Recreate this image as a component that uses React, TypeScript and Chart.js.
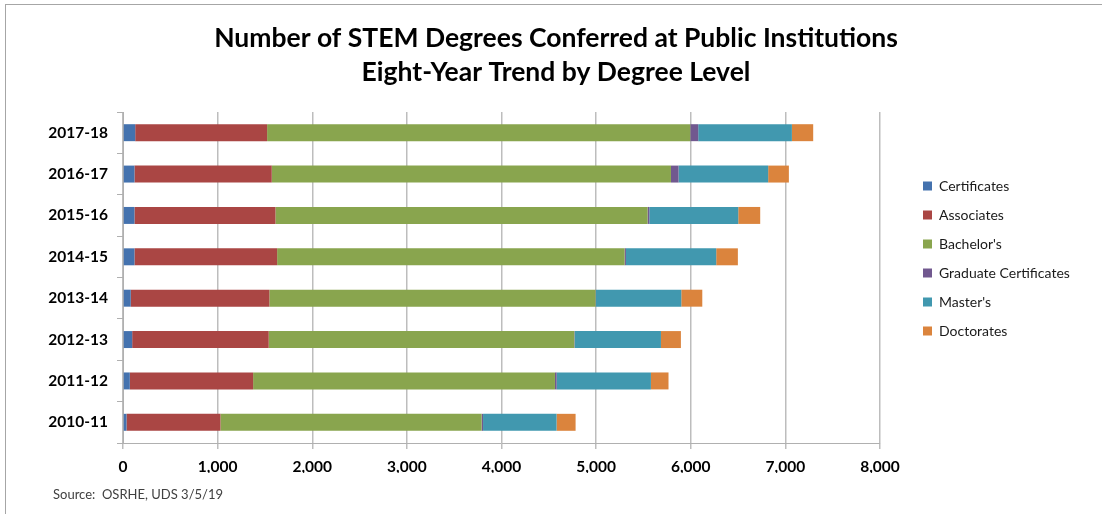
import React, { useEffect, useRef } from "react";
import { Chart, registerables } from "chart.js";

Chart.register(...registerables);

const categories = ["2017-18", "2016-17", "2015-16", "2014-15", "2013-14", "2012-13", "2011-12", "2010-11"];
const certificates = [129, 121, 121, 121, 82, 97, 72, 37];
const associates = [1394, 1451, 1490, 1508, 1465, 1443, 1303, 993];
const bachelors = [4472, 4219, 3933, 3672, 3447, 3229, 3190, 2760];
const gradCertificates = [84, 80, 18, 14, 4, 4, 18, 15];
const masters = [990, 947, 940, 954, 902, 912, 996, 777];
const doctorates = [225, 219, 232, 229, 222, 211, 186, 201];
const xTicks = [0, 1000, 2000, 3000, 4000, 5000, 6000, 7000, 8000];

const titleLines = ["Number of STEM Degrees Conferred at Public Institutions", "Eight-Year Trend by Degree Level"];
const sourceText = "Source:  OSRHE, UDS 3/5/19";

const FONT = "Lato, 'Open Sans', sans-serif";
const LEGEND_FONT_SIZE = 14;
const LEGEND_PAD = 15;
const LEGEND_BOX = 9;

export default function App() {
  const ref = useRef<HTMLCanvasElement | null>(null);

  useEffect(() => {
    if (!ref.current) return;
    const series = [
      { label: "Certificates", data: certificates, backgroundColor: "#4472AE" },
      { label: "Associates", data: associates, backgroundColor: "#AA4644" },
      { label: "Bachelor's", data: bachelors, backgroundColor: "#89A54E" },
      { label: "Graduate Certificates", data: gradCertificates, backgroundColor: "#71588F" },
      { label: "Master's", data: masters, backgroundColor: "#4198AF" },
      { label: "Doctorates", data: doctorates, backgroundColor: "#DB843D" },
    ];

    // measure the legend so the layout can be fixed
    const mctx = document.createElement("canvas").getContext("2d")!;
    mctx.font = `normal ${LEGEND_FONT_SIZE}px ${FONT}`;
    const textW = Math.max(...series.map((s) => mctx.measureText(s.label).width));
    const legendLeft = 908;
    const legendWidth = Math.ceil(LEGEND_PAD + LEGEND_BOX + LEGEND_FONT_SIZE / 2 + textW + 3);
    const padRight = Math.max(0, 1102 - legendLeft - legendWidth);
    const padLeft = padRight + 10;
    const yAxisWidth = 123 - padLeft;

    const chart = new Chart(ref.current, {
      type: "bar",
      data: {
        labels: categories,
        datasets: series.map((s) => ({
          ...s,
          borderWidth: 0,
          barPercentage: 0.41,
          categoryPercentage: 1,
        })),
      },
      options: {
        indexAxis: "y",
        responsive: false,
        animation: false,
        devicePixelRatio: 1,
        layout: { padding: { left: padLeft, right: padRight, top: 0, bottom: 41 } },
        scales: {
          x: {
            stacked: true,
            min: 0,
            max: 8000,
            afterBuildTicks: (scale: any) => {
              scale.ticks = xTicks.map((v) => ({ value: v }));
            },
            afterFit: (scale: any) => {
              scale.height = 30;
            },
            grid: { color: "#bdbdbd", lineWidth: 1.5, tickLength: 6, drawTicks: true },
            border: { display: true, color: "#b0b0b0", width: 1 },
            ticks: {
              padding: 9,
              color: "#000",
              font: { family: FONT, size: 15.5, weight: "bold" },
              callback: (v: any) => Number(v).toLocaleString("en-US"),
            },
          },
          y: {
            stacked: true,
            afterFit: (scale: any) => {
              scale.width = yAxisWidth;
            },
            grid: { drawOnChartArea: false, drawTicks: true, tickLength: 6, offset: true, color: "#b0b0b0" },
            border: { display: true, color: "#b0b0b0", width: 1 },
            ticks: {
              padding: 9,
              color: "#000",
              font: { family: FONT, size: 15.5, weight: "bold" },
            },
          },
          y2: {
            type: "category",
            position: "right",
            display: true,
            grid: { display: false, drawTicks: false },
            border: { display: false },
            ticks: { display: false },
            afterFit: (scale: any) => {
              scale.width = 28;
            },
          },
        },
        plugins: {
          title: {
            display: true,
            text: titleLines,
            color: "#000",
            font: { family: FONT, size: 26.5, weight: "bold", lineHeight: 34 / 26.5 },
            padding: { top: 21, bottom: 23 },
          },
          legend: {
            display: true,
            position: "right",
            align: "start",
            fullSize: false,
            maxWidth: legendWidth,
            title: { display: true, text: "", padding: { top: 0, bottom: 40 }, font: { size: 10 } },
            labels: {
              boxWidth: LEGEND_BOX,
              boxHeight: LEGEND_BOX,
              padding: LEGEND_PAD,
              color: "#1a1a1a",
              font: { family: FONT, size: LEGEND_FONT_SIZE },
            },
          },
          tooltip: { enabled: false },
        },
      } as any,
    });
    return () => chart.destroy();
  }, []);

  return (
    <div style={{ position: "fixed", left: 0, top: 0, width: 1102, height: 514, overflow: "hidden", background: "#fff" }}>
      <div
        style={{
          position: "absolute",
          left: 5,
          top: 4,
          right: 0,
          bottom: 0,
          borderLeft: "1px solid #a6a6a6",
          borderTop: "1px solid #a6a6a6",
          pointerEvents: "none",
        }}
      />
      <canvas ref={ref} width={1102} height={514} style={{ position: "absolute", left: 0, top: 0, width: 1102, height: 514 }} />
      <div
        style={{
          position: "absolute",
          left: 53,
          top: 486,
          lineHeight: "16px",
          fontSize: 13,
          fontFamily: FONT,
          color: "#404040",
          whiteSpace: "pre",
        }}
      >
        {sourceText}
      </div>
    </div>
  );
}
